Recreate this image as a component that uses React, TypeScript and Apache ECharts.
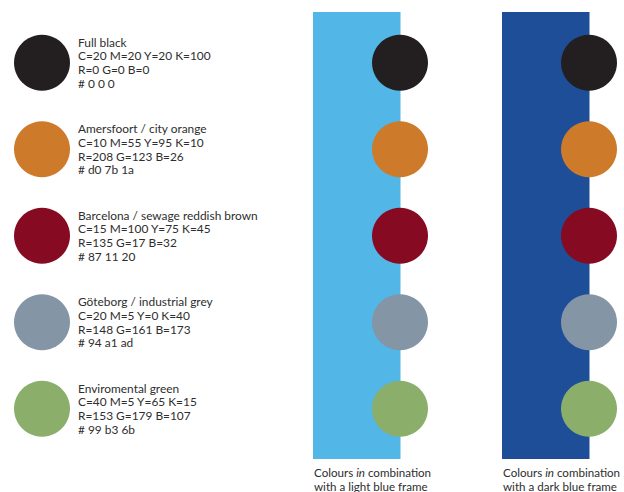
import React, { useEffect, useRef } from "react";
import * as echarts from "echarts";

const swatchNames = [
  "Full black",
  "Amersfoort / city orange",
  "Barcelona / sewage reddish brown",
  "Göteborg / industrial grey",
  "Enviromental green",
];
const cmykValues = [
  "C=20 M=20 Y=20 K=100",
  "C=10 M=55 Y=95 K=10",
  "C=15 M=100 Y=75 K=45",
  "C=20 M=5 Y=0 K=40",
  "C=40 M=5 Y=65 K=15",
];
const rgbValues = [
  "R=0 G=0 B=0",
  "R=208 G=123 B=26",
  "R=135 G=17 B=32",
  "R=148 G=161 B=173",
  "R=153 G=179 B=107",
];
const hexLabels = ["# 0 0 0", "# d0 7b 1a", "# 87 11 20", "# 94 a1 ad", "# 99 b3 6b"];
const swatchColors = ["#231f20", "#cd7b2a", "#850a22", "#8495a6", "#8bae6b"];
const columns = ["Swatch", "Light blue frame", "Dark blue frame"];
const frameColors = ["#52b6e6", "#1f4e99"];
const captions = [
  ["Colours ", "in", " combination", "with a light blue frame"],
  ["Colours ", "in", " combination", "with a dark blue frame"],
];

const FONT = "Lato";
const TEXT_COLOR = "#2e2e2e";
const FS = 11.9;
const CAP_FS = 11.6;

export default function App() {
  const ref = useRef<HTMLDivElement>(null);
  useEffect(() => {
    if (!ref.current) return;
    const chart = echarts.init(ref.current, null, { renderer: "svg" });
    const centersX = [42, 400, 589];
    const gridTop = 19.5;
    const gridHeight = 432.5;
    const grids = centersX.map((cx) => ({
      left: cx - 30,
      width: 60,
      top: gridTop,
      height: gridHeight,
    }));
    const xAxes = columns.map((c, i) => ({
      type: "category" as const,
      gridIndex: i,
      data: [c],
      show: false,
    }));
    const yAxes = columns.map((_, i) => ({
      type: "category" as const,
      gridIndex: i,
      data: swatchNames,
      inverse: true,
      show: false,
    }));
    const series: any[] = columns.map((col, i) => ({
      type: "scatter",
      name: col,
      xAxisIndex: i,
      yAxisIndex: i,
      symbol: "circle",
      symbolSize: 56,
      z: 5,
      data: swatchNames.map((n, k) => ({
        value: [col, n],
        itemStyle: { color: swatchColors[k], opacity: 1 },
      })),
      itemStyle: { opacity: 1 },
      emphasis: { disabled: true },
      label:
        i === 0
          ? {
              show: true,
              position: "right",
              distance: 8,
              formatter: (p: any) =>
                [swatchNames[p.dataIndex], cmykValues[p.dataIndex], rgbValues[p.dataIndex], hexLabels[p.dataIndex]].join("\n"),
              fontFamily: FONT,
              fontSize: FS,
              lineHeight: 13.6,
              color: TEXT_COLOR,
              align: "left",
            }
          : { show: false },
    }));

    const graphic: any[] = [];
    const frameLeft = [313, 502];
    frameColors.forEach((fc, i) => {
      graphic.push({
        type: "rect",
        z: 0,
        shape: { x: frameLeft[i], y: 12, width: 87.5, height: 447 },
        style: { fill: fc },
      });
      const cap = captions[i];
      graphic.push({
        type: "text",
        x: frameLeft[i] + 1,
        y: 472,
        style: {
          text: `${cap[0]}{i|${cap[1]}}${cap[2]}`,
          verticalAlign: "middle",
          fontFamily: FONT,
          fontSize: CAP_FS,
          lineHeight: 12,
          fill: TEXT_COLOR,
          rich: {
            i: { fontFamily: FONT, fontSize: CAP_FS, lineHeight: 12, fill: TEXT_COLOR, color: TEXT_COLOR, fontStyle: "italic" },
          },
        },
      });
      graphic.push({
        type: "text",
        x: frameLeft[i] + 1,
        y: 486,
        style: {
          text: cap[3],
          verticalAlign: "middle",
          fontFamily: FONT,
          fontSize: CAP_FS,
          lineHeight: 12,
          fill: TEXT_COLOR,
        },
      });
    });

    chart.setOption({
      animation: false,
      backgroundColor: "#ffffff",
      grid: grids,
      xAxis: xAxes,
      yAxis: yAxes,
      series,
      graphic,
    });
    return () => chart.dispose();
  }, []);
  return (
    <div
      ref={ref}
      style={{ position: "absolute", left: 0, top: 0, width: 624, height: 492 }}
    />
  );
}
